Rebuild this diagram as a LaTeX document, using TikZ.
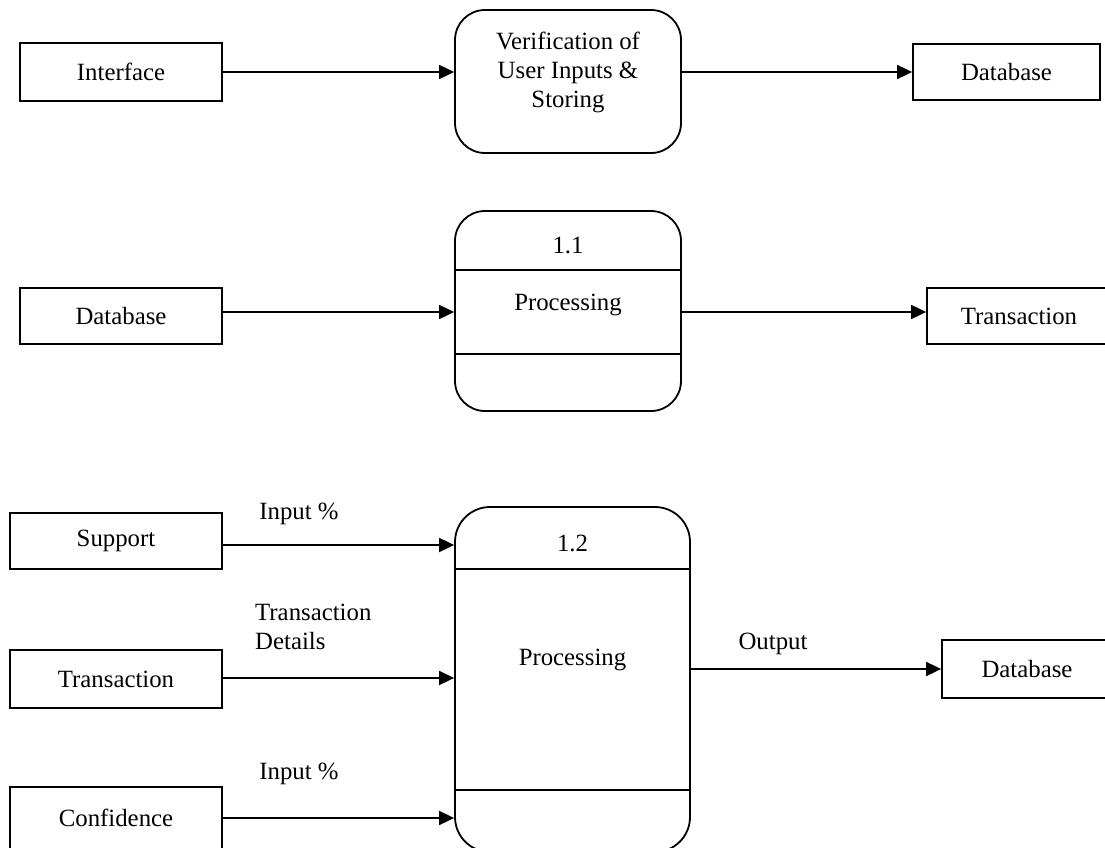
\documentclass[tikz,border=0pt]{standalone}
\usepackage{fontspec}
\setmainfont{Liberation Serif}
\usetikzlibrary{arrows.meta}
\begin{document}
\begin{tikzpicture}[x=1pt,y=-1pt,
  every node/.style={font=\fontsize{24.8}{29}\selectfont},
  ent/.style={draw, line width=1.8pt, inner sep=0pt},
  proc/.style={draw, line width=1.8pt, rounded corners=30pt, inner sep=0pt},
  lbl/.style={inner sep=0pt},
  flow/.style={line width=1.8pt, -{Triangle[length=15pt,width=14pt]}},
  sepline/.style={line width=1.8pt}]
\useasboundingbox (0,0) rectangle (1105,848);
\clip (0,0) rectangle (1105,848);
% row 1
\node[ent, minimum width=202pt, minimum height=58pt] (iface) at (121,72) {Interface};
\node[proc, minimum width=226pt, minimum height=143pt] (verify) at (568,81.5) {};
\node[lbl, align=center] (verifyt) at (568,72) {Verification of\\User Inputs \&\\Storing};
\node[ent, minimum width=187pt, minimum height=56pt] (db1) at (1006.5,72) {Database};
\draw[flow] (iface.east) -- (iface.east -| verify.west);
\draw[flow] (verify.east |- db1.west) -- (db1.west);
% row 2
\coordinate (r2) at (0,312);
\node[ent, minimum width=202pt, minimum height=56pt] (db2) at (121,316) {Database};
\node[proc, minimum width=226pt, minimum height=200pt] (p11) at (568,311) {};
\draw[sepline] (p11.west |- 0,270) -- (p11.east |- 0,270);
\draw[sepline] (p11.west |- 0,354) -- (p11.east |- 0,354);
\node[lbl] (p11n) at (568,245) {1.1};
\node[lbl] (p11t) at (568,305) {Processing};
\node[ent, minimum width=184pt, minimum height=56pt] (tr1) at (1019,316) {Transaction};
\draw[flow] (db2.east |- r2) -- (p11.west |- r2);
\draw[flow] (p11.east |- r2) -- (tr1.west |- r2);
% row 3
\coordinate (r3a) at (0,545);
\coordinate (r3b) at (0,678);
\coordinate (r3c) at (0,818);
\node[ent, minimum width=212pt, minimum height=56pt] (sup) at (116,541) {Support};
\node[ent, minimum width=212pt, minimum height=58pt] (tr2) at (116,679) {Transaction};
\node[ent, minimum width=212pt, minimum height=62pt] (conf) at (116,818) {Confidence};
\node[proc, rounded corners=35pt, minimum width=235pt, minimum height=345pt] (p12) at (572.5,679.5) {};
\draw[sepline] (p12.west |- 0,569) -- (p12.east |- 0,569);
\draw[sepline] (p12.west |- 0,790) -- (p12.east |- 0,790);
\node[lbl] (p12n) at (572.5,543) {1.2};
\node[lbl] (p12t) at (572.5,660) {Processing};
\node[ent, minimum width=170pt, minimum height=58pt] (db3) at (1027,669) {Database};
\draw[flow] (sup.east |- r3a) -- (p12.west |- r3a);
\draw[flow] (tr2.east |- r3b) -- (p12.west |- r3b);
\draw[flow] (conf.east |- r3c) -- (p12.west |- r3c);
\draw[flow] (p12.east |- db3.west) -- (db3.west);
\node[lbl] (in1) at (299,514) {Input \%};
\node[lbl, align=left, anchor=west] (td) at (255,627) {Transaction\\Details};
\node[lbl] (in2) at (299,774) {Input \%};
\node[lbl] (outl) at (773,644) {Output};
\end{tikzpicture}
\end{document}
